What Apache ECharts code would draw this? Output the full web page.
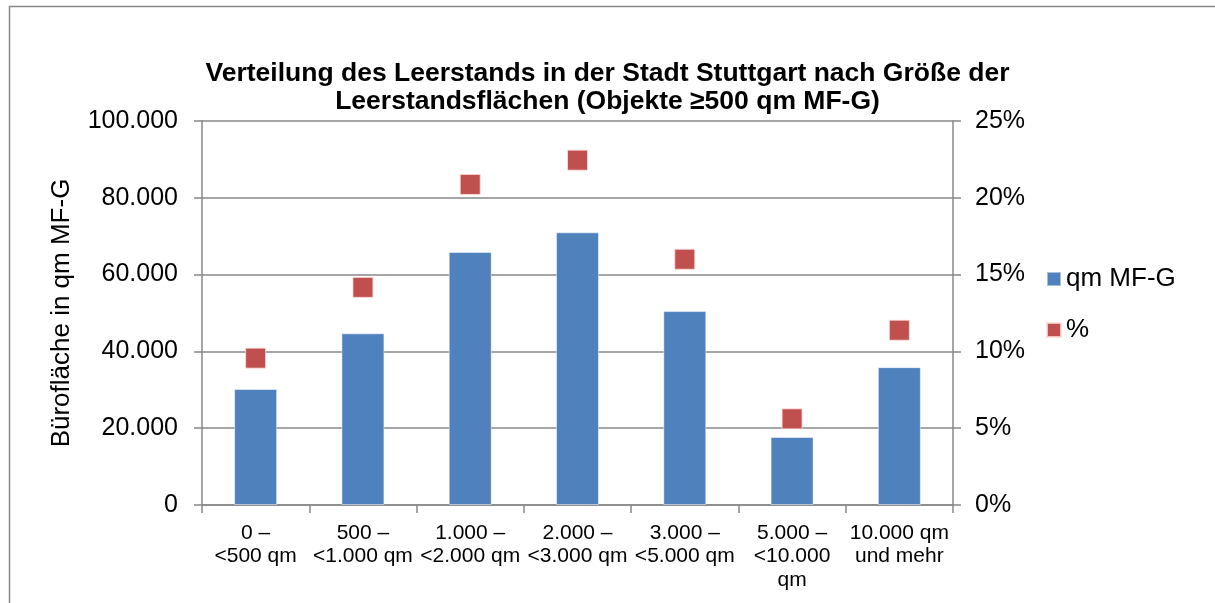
<!DOCTYPE html>
<html>
<head>
<meta charset="utf-8">
<script src="https://cdn.jsdelivr.net/npm/echarts@6/dist/echarts.min.js"></script>
<style>
  html, body { margin: 0; padding: 0; background: #fff; }
  #chart { width: 1215px; height: 603px; }
</style>
</head>
<body>
<div id="chart"></div>
<script>
const categories = [
  '0 –\n<500 qm',
  '500 –\n<1.000 qm',
  '1.000 –\n<2.000 qm',
  '2.000 –\n<3.000 qm',
  '3.000 –\n<5.000 qm',
  '5.000 –\n<10.000\nqm',
  '10.000 qm\nund mehr'
];
const areaValues = [30200, 44700, 65900, 71000, 50500, 17700, 35900];
const shareValues = [9.56, 14.17, 20.87, 22.45, 16.0, 5.61, 11.38];

const fontFamily = 'Liberation Sans, Arial, sans-serif';

const formatThousands = (v) => String(v).replace(/\B(?=(\d{3})+(?!\d))/g, '.');

const chartBlock = document.getElementById('chart');
const chart = echarts.init(chartBlock);

const option = {
  animation: false,
  textStyle: { fontFamily: fontFamily },
  title: {
    text: 'Verteilung des Leerstands in der Stadt Stuttgart nach Größe der\nLeerstandsflächen (Objekte ≥500 qm MF-G)',
    left: 'center',
    top: 55,
    textStyle: {
      fontSize: 26.5,
      fontWeight: 'bold',
      color: '#000',
      lineHeight: 28,
      fontFamily: fontFamily,
    },
  },
  graphic: [
    {
      type: 'rect',
      shape: { x: 9.5, y: 6.5, width: 1300, height: 700 },
      style: { fill: 'none', stroke: '#888', lineWidth: 1.5 },
      silent: true,
    },
  ],
  legend: {
    orient: 'vertical',
    left: 1046,
    top: 266,
    padding: 0,
    itemGap: 25,
    itemWidth: 14,
    itemHeight: 14,
    textStyle: { fontSize: 26, lineHeight: 26, color: '#000', fontFamily: fontFamily },
    data: [
      { name: 'qm MF-G', icon: 'rect' },
      { name: '%', icon: 'rect' },
    ],
  },
  grid: {
    left: 202,
    right: 262,
    top: 121,
    bottom: 98,
  },
  xAxis: {
    type: 'category',
    data: categories,
    axisLine: { show: true, lineStyle: { color: '#888', width: 1.5 } },
    axisTick: { show: true, length: 8, lineStyle: { color: '#888', width: 1.5 } },
    axisLabel: {
      interval: 0,
      fontSize: 21,
      lineHeight: 23.5,
      color: '#000',
      margin: 16,
    },
  },
  yAxis: [
    {
      type: 'value',
      min: 0,
      max: 100000,
      interval: 20000,
      name: 'Bürofläche in qm MF-G',
      nameLocation: 'middle',
      nameRotate: 90,
      nameGap: 127,
      nameTextStyle: { fontSize: 26, color: '#000' },
      axisLine: { show: true, lineStyle: { color: '#888', width: 1.5 } },
      axisTick: { show: true, length: 8, lineStyle: { color: '#888', width: 1.5 } },
      axisLabel: {
        fontSize: 25,
        color: '#000',
        margin: 24,
        formatter: (v) => formatThousands(v),
      },
      splitLine: { show: true, lineStyle: { color: '#888', width: 1.5 } },
    },
    {
      type: 'value',
      position: 'right',
      min: 0,
      max: 25,
      interval: 5,
      axisLine: { show: true, lineStyle: { color: '#888', width: 1.5 } },
      axisTick: { show: true, length: 8, lineStyle: { color: '#888', width: 1.5 } },
      axisLabel: {
        fontSize: 25,
        color: '#000',
        margin: 22,
        formatter: '{value}%',
      },
      splitLine: { show: false },
    },
  ],
  series: [
    {
      name: 'qm MF-G',
      type: 'bar',
      data: areaValues,
      yAxisIndex: 0,
      barWidth: 43,
      itemStyle: {
        color: '#4F81BD',
        borderColor: 'rgba(255,255,255,0.5)',
        borderWidth: 1,
      },
    },
    {
      name: '%',
      type: 'scatter',
      data: shareValues,
      yAxisIndex: 1,
      symbol: 'rect',
      symbolSize: 20,
      itemStyle: {
        color: '#C0504D',
        borderColor: 'rgba(255,220,220,0.8)',
        borderWidth: 1,
        opacity: 1,
      },
    },
  ],
};

chart.setOption(option);
window.addEventListener('resize', () => chart.resize());
</script>
</body>
</html>
